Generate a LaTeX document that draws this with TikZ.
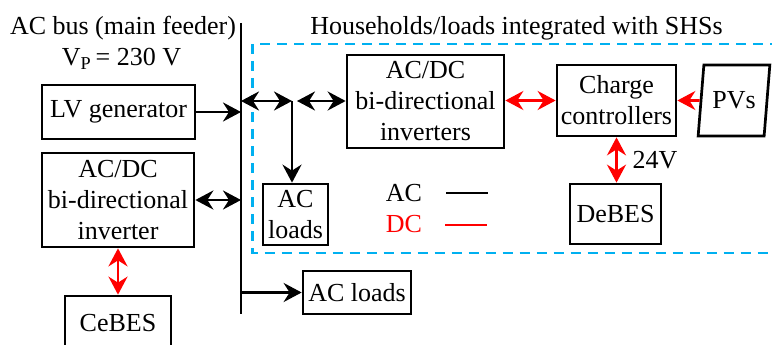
\documentclass[tikz,border=0pt]{standalone}
\usepackage{fontspec}
\setmainfont{Liberation Serif}
\usepackage{tikz}
\usetikzlibrary{arrows.meta,calc,positioning,shapes.geometric}
\definecolor{shsblue}{RGB}{0,176,240}
\definecolor{dcred}{RGB}{255,0,0}
\tikzset{
  kasten/.style={
    draw=black,
    line width=2.7pt,
    align=center,
    inner sep=2pt
  },
  titel/.style={
    anchor=base,
    inner sep=0pt
  },
  acpfeil/.style={
    -{Stealth[length=18pt,width=19pt,inset=6pt]},
    line width=2.7pt,
    black
  },
  acdoppel/.style={
    {Stealth[length=18pt,width=19pt,inset=6pt]}-{Stealth[length=18pt,width=19pt,inset=6pt]},
    line width=2.7pt,
    black
  },
  dcpfeil/.style={
    -{Stealth[length=18pt,width=19pt,inset=6pt]},
    line width=2.7pt,
    dcred
  },
  dcdoppel/.style={
    {Stealth[length=18pt,width=19pt,inset=6pt]}-{Stealth[length=18pt,width=19pt,inset=6pt]},
    line width=2.7pt,
    dcred
  },
  shsrahmen/.style={
    draw=shsblue,
    line width=2.7pt,
    dash pattern=on 10pt off 7pt
  }
}
\begin{document}
\begin{tikzpicture}[x=1pt,y=-1pt,font=\fontsize{26}{31}\selectfont]
\clip (0,0) rectangle (772,345);
% titles
\node[titel] (bustitel) at (123,35) {AC bus (main feeder)};
\node[titel] (busspann) at (121.5,66) {V\textsubscript{P}\,= 230 V};
\node[titel] (shstitel) at (516.5,35) {Households/loads integrated with SHSs};
% dashed SHS frame
\draw[shsrahmen] (252.5,44) rectangle (800,253);
% main feeder
\coordinate (busN) at (241,23);
\coordinate (busS) at (241,314);
\draw[line width=2.8pt] (busN) -- (busS);
% left side
\node[kasten, minimum width=153, minimum height=54] (gen) at (118.5,112) {LV generator};
\node[kasten, minimum width=152, minimum height=94] (invL) at (118,200) {AC/DC\\bi-directional\\inverter};
\node[kasten, minimum width=106, minimum height=54] (cebes) at (118,323) {CeBES};
\node[kasten, minimum width=108, minimum height=43] (aclB) at (357,292.5) {AC loads};
% households
\node[kasten, minimum width=65, minimum height=61] (aclS) at (295.5,214.5) {AC\\loads};
\node[kasten, minimum width=157, minimum height=93] (invR) at (425.5,101.5) {AC/DC\\bi-directional\\inverters};
\node[kasten, minimum width=119, minimum height=71] (cc) at (616.5,100.5) {Charge\\controllers};
\node[kasten, trapezium, trapezium left angle=76.7, trapezium right angle=103.3,
  trapezium stretches=true, minimum width=72, minimum height=71, inner sep=0pt] (pv) at (734,100.5) {PVs};
\node[kasten, minimum width=91, minimum height=60] (debes) at (615.5,214) {DeBES};
% legend
\node[titel] (legac) at (404,201.5) {AC};
\node[titel, text=dcred] (legdc) at (404,232.5) {DC};
\draw[line width=2.7pt, black] (446,193) -- (488,193);
\draw[line width=2.7pt, dcred] (445,225) -- (487,225);
% AC connections
\coordinate (jnA) at (292,101);
\coordinate (jnB) at (297,101);
\draw[acpfeil] (gen.east) -- (gen.east -| busN);
\draw[acdoppel] (invL.east) -- (invL.east -| busN);
\draw[acpfeil] (aclB.west -| busN) -- (aclB.west);
\draw[acdoppel] (jnA -| busN) -- (jnA);
\draw[acdoppel] (jnB) -- (jnB -| invR.west);
\draw[acpfeil] (jnA) -- (jnA |- aclS.north);
% DC connections
\draw[dcdoppel] (invL.south) -- (cebes.north);
\draw[dcdoppel] (invR.east |- cc.west) -- (cc.west);
\draw[dcpfeil] (pv.west) -- (cc.east);
\draw[dcdoppel] (cc.south) -- (cc.south |- debes.north);
\node[anchor=west, inner sep=0pt] (volt) at ($(cc.south)!0.5!(cc.south |- debes.north)+(16,0)$) {24V};
\end{tikzpicture}
\end{document}
